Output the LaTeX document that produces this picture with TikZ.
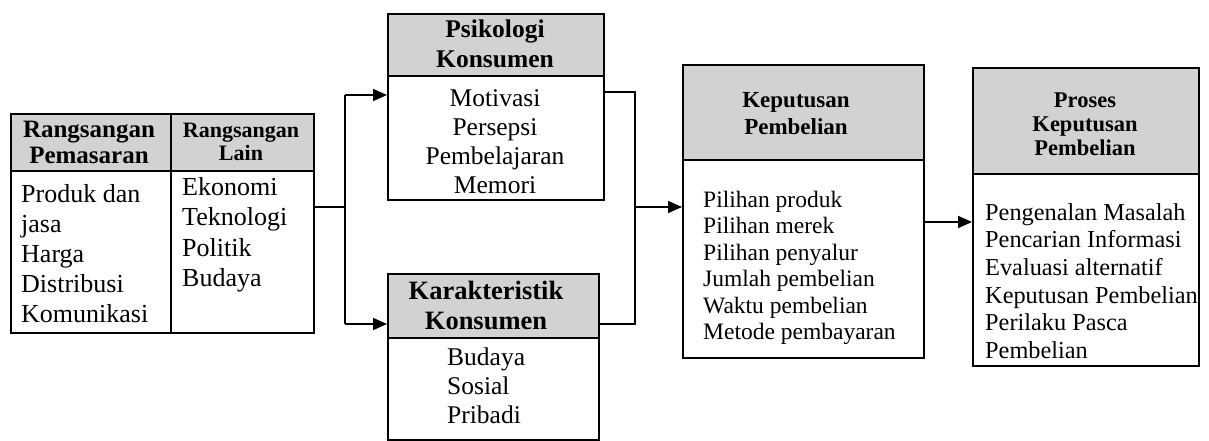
\documentclass[tikz,border=0pt]{standalone}
\usepackage{fontspec}
\setmainfont{Liberation Serif}
\usetikzlibrary{arrows.meta}
\definecolor{hdrgray}{RGB}{210,210,210}
\tikzset{
  frame/.style={draw=black, line width=1.7pt, inner sep=0pt, anchor=north west},
  hdrbox/.style={frame, fill=hdrgray},
  bodybox/.style={frame, fill=white},
  conn/.style={draw=black, line width=1.7pt},
  arr/.style={conn, -{Triangle[length=14pt,width=12pt]}},
  txt/.style={inner sep=0pt, font=\fontsize{24}{28}\selectfont},
  btxt/.style={inner sep=0pt, align=center, font=\bfseries\fontsize{25}{28}\selectfont},
}
\begin{document}
\begin{tikzpicture}[x=1pt,y=-1pt]
\useasboundingbox (0,0) rectangle (1209,441);
% ---------- left table
\node[hdrbox, minimum width=160pt, minimum height=57pt] (rph) at (10,113) {};
\node[hdrbox, minimum width=143pt, minimum height=57pt] (rlh) at (170,113) {};
\node[bodybox, minimum width=160pt, minimum height=162pt] (rpb) at (10,170) {};
\node[bodybox, minimum width=143pt, minimum height=162pt] (rlb) at (170,170) {};
\node[btxt, font=\bfseries\fontsize{25}{26}\selectfont] (rpt) at (89,142) {Rangsangan\\Pemasaran};
\node[btxt, font=\bfseries\fontsize{22}{23}\selectfont] (rlt) at (241,142) {Rangsangan\\Lain};
\node[txt, align=left, anchor=north west, font=\fontsize{26}{30}\selectfont] (rpx) at (21,184) {Produk dan\\jasa\\Harga\\Distribusi\\Komunikasi};
\node[txt, align=left, anchor=north west, font=\fontsize{26}{30.5}\selectfont] (rlx) at (182,177) {Ekonomi\\Teknologi\\Politik\\Budaya};
% ---------- Psikologi Konsumen
\node[hdrbox, minimum width=216pt, minimum height=62pt] (psh) at (387,13) {};
\node[bodybox, minimum width=216pt, minimum height=124pt] (psb) at (387,75) {};
\node[btxt, font=\bfseries\fontsize{25.5}{30}\selectfont] (pst) at (495,44) {Psikologi\\Konsumen};
\node[txt, align=center, font=\fontsize{25.5}{29}\selectfont] (psx) at (495,142) {Motivasi\\Persepsi\\Pembelajaran\\Memori};
% ---------- Karakteristik Konsumen
\node[hdrbox, minimum width=211pt, minimum height=64pt] (kkh) at (387,273) {};
\node[bodybox, minimum width=211pt, minimum height=102pt] (kkb) at (387,337) {};
\node[btxt, font=\bfseries\fontsize{26.5}{30}\selectfont] (kkt) at (486,305) {Karakteristik\\Konsumen};
\node[txt, align=left, anchor=west, font=\fontsize{25.5}{29}\selectfont] (kkx) at (447,386) {Budaya\\Sosial\\Pribadi};
% ---------- Keputusan Pembelian
\node[hdrbox, minimum width=241pt, minimum height=95pt] (kph) at (682,64) {};
\node[bodybox, minimum width=241pt, minimum height=198pt] (kpb) at (682,159) {};
\node[btxt, font=\bfseries\fontsize{23}{27}\selectfont] (kpt) at (796,114) {Keputusan\\Pembelian};
\node[txt, align=left, anchor=west, font=\fontsize{23.5}{26.5}\selectfont] (kpx) at (703,268) {Pilihan produk\\Pilihan merek\\Pilihan penyalur\\Jumlah pembelian\\Waktu pembelian\\Metode pembayaran};
% ---------- Proses Keputusan Pembelian
\node[hdrbox, minimum width=226pt, minimum height=106pt] (prh) at (972,67) {};
\node[bodybox, minimum width=226pt, minimum height=192pt] (prb) at (972,173) {};
\node[btxt, font=\bfseries\fontsize{22.5}{24}\selectfont] (prt) at (1085,124) {Proses\\Keputusan\\Pembelian};
\node[txt, align=left, anchor=west, font=\fontsize{24.3}{27.6}\selectfont] (prx) at (985,281) {Pengenalan Masalah\\Pencarian Informasi\\Evaluasi alternatif\\Keputusan Pembelian\\Perilaku Pasca\\Pembelian};
% ---------- connectors
\coordinate (sl) at (345,207);
\coordinate (st) at (345,95);
\coordinate (sb) at (345,324);
\coordinate (jr) at (635,207);
\coordinate (jt) at (635,92);
\coordinate (jb) at (635,324);
\draw[conn] (rlb.east |- sl) -- (sl);
\draw[conn] (st) -- (sb);
\draw[arr] (st) -- (psb.west |- st);
\draw[arr] (sb) -- (kkh.west |- sb);
\draw[conn] (psb.east |- jt) -- (jt) -- (jb) -- (kkh.east |- jb);
\draw[arr] (jr) -- (kpb.west |- jr);
\draw[arr] (kpb.east |- 0,222) -- (prb.west |- 0,222);
\end{tikzpicture}
\end{document}
